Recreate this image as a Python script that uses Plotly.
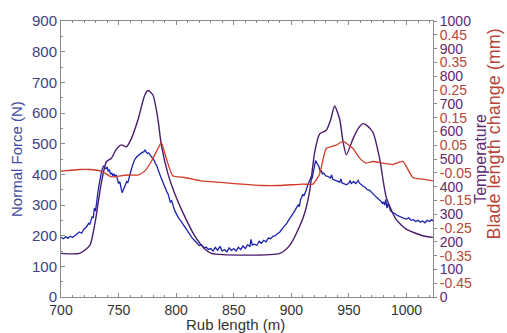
import plotly.graph_objects as go

# Normal force (N) vs rub length (m)
force_x = [700, 702, 704, 706, 708, 710, 712, 714, 716, 718, 720, 722, 724, 725, 726, 727, 728, 729, 730,
           731, 732, 733, 734, 735, 736, 737, 738, 739, 740, 741, 742, 743, 744, 745, 746, 747, 748, 749,
           750, 751, 752, 753, 754, 755, 756, 757, 758, 759, 760, 761, 762, 763, 764, 766, 768, 770, 772,
           773, 774, 775, 776, 778, 779, 780, 781, 782, 783, 784, 785, 786, 787, 788, 789, 790, 791, 792,
           793, 794, 795, 796, 797, 798, 799, 800, 802, 804, 806, 808, 810, 812, 814, 816, 818, 820, 822,
           824, 826, 828, 830, 832, 834, 836, 838, 840, 842, 844, 846, 848, 850, 852, 854, 856, 858, 860,
           862, 864, 865, 866, 868, 870, 872, 874, 876, 878, 880, 882, 884, 886, 888, 890, 892, 894, 896,
           898, 900, 902, 904, 906, 907, 908, 909, 910, 911, 912, 913, 914, 915, 916, 917, 918, 919, 920,
           921, 922, 923, 924, 925, 926, 927, 928, 930, 932, 934, 935, 936, 938, 940, 942, 943, 944, 946,
           948, 950, 951, 952, 954, 956, 958, 959, 960, 962, 964, 966, 968, 970, 972, 974, 976, 978, 979,
           980, 981, 982, 983, 984, 985, 986, 988, 990, 992, 994, 996, 998, 1000, 1002, 1004, 1006, 1008,
           1010, 1012, 1014, 1016, 1018, 1020, 1022, 1023]
force_n = [195, 190, 196, 192, 198, 194, 200, 205, 212, 208, 222, 228, 240, 236, 252, 262, 258, 290, 280,
           320, 340, 365, 390, 405, 420, 428, 422, 418, 424, 410, 415, 400, 405, 395, 402, 392, 398, 380,
           370, 376, 355, 340, 348, 360, 368, 376, 372, 390, 400, 415, 428, 440, 448, 458, 465, 470, 474,
           480, 472, 468, 470, 460, 458, 452, 445, 435, 430, 418, 405, 398, 388, 378, 370, 360, 352, 342,
           336, 320, 308, 315, 298, 290, 280, 272, 258, 248, 236, 226, 214, 202, 192, 184, 176, 168, 170,
           160, 163, 155, 158, 150, 162, 152, 165, 150, 155, 147, 160, 152, 158, 150, 162, 155, 166, 158,
           170, 165, 188, 170, 172, 168, 182, 175, 185, 180, 192, 190, 198, 200, 206, 212, 222, 230, 240,
           252, 262, 275, 288, 300, 295, 318, 325, 335, 330, 345, 350, 362, 372, 380, 390, 386, 410, 432,
           445, 438, 430, 425, 410, 412, 402, 404, 395, 393, 388, 398, 384, 382, 378, 374, 385, 372, 370,
           366, 372, 380, 370, 376, 370, 380, 372, 368, 362, 358, 350, 348, 340, 330, 325, 318, 312, 304,
           310, 300, 318, 290, 305, 294, 282, 275, 272, 266, 262, 260, 256, 254, 258, 250, 252, 246,
           250, 244, 248, 242, 250, 246, 252, 248]

# Temperature vs rub length
temp_x = [700, 716, 725, 729.6, 734.9, 739.5, 743.8, 748, 752.5, 756.8, 761, 766.9, 772.7, 775.6, 779.9,
          784.2, 787.1, 792.9, 798.7, 807.4, 816, 824.7, 830.5, 890, 898.6, 907.3, 912, 916, 920.3, 924.6,
          930.4, 934, 937.6, 942, 945, 947.8, 953.5, 958, 962.2, 966, 970.9, 976.6, 982.4, 991, 999.8,
          1014, 1023]
temp_v = [158, 158, 187, 270, 411, 491, 503, 535, 551, 544, 573, 643, 731, 748, 731,
          643, 551, 446, 375, 292, 222, 175, 158, 158, 187, 257, 310, 386, 526, 591,
          604, 640, 692, 643, 560, 515, 573, 610, 628, 620, 596, 503, 362, 281, 246,
          222, 216]

# Blade length change (mm) vs rub length
blade_x = [700, 716, 725, 735, 743.8, 750, 757.6, 766.9, 772.7, 778.4, 784.2, 787.1, 791.4, 797, 807.4,
           821.8, 839, 856.4, 873.8, 889.7, 910, 918.7, 924.5, 930.3, 939, 944.8, 953.5, 959.3, 965,
           970.8, 979.5, 988.1, 996.8, 1005.5, 1014, 1023]
blade_v = [-0.044, -0.038, -0.038, -0.044, -0.065, -0.062, -0.058, -0.058, -0.044, -0.009, 0.038, 0.059,
           0.003, -0.061, -0.067, -0.079, -0.085, -0.091, -0.096, -0.096, -0.091, -0.091, -0.055, 0.038,
           0.050, 0.064, 0.038, 0.003, -0.015, -0.009, -0.015, -0.020, -0.009, -0.067, -0.073, -0.079]

x_ticks = [700, 750, 800, 850, 900, 950, 1000]
force_ticks = [0, 100, 200, 300, 400, 500, 600, 700, 800, 900]
temp_ticks = [0, 100, 200, 300, 400, 500, 600, 700, 800, 900, 1000]
blade_ticks = [-0.45, -0.35, -0.25, -0.15, -0.05, 0.05, 0.15, 0.25, 0.35, 0.45]
blade_labels = ["-0.45", "-0.35", "-0.25", "-0.15", "-0.05", "0.05", "0.15", "0.25", "0.35", "0.45"]

FONT = "Liberation Sans, Arial, sans-serif"
AX = "#8a8a8a"
BLUE_TXT = "#3c4285"
PURPLE = "#5a2a72"
RED_TXT = "#b5473a"

fig = go.Figure()
fig.add_trace(go.Scatter(x=force_x, y=force_n, mode="lines", line=dict(color="#1c22b0", width=1.3),
                         yaxis="y", showlegend=False))
fig.add_trace(go.Scatter(x=temp_x, y=temp_v, mode="lines", line=dict(color="#4a1c6c", width=1.4, shape="spline", smoothing=0.6),
                         yaxis="y2", showlegend=False))
fig.add_trace(go.Scatter(x=blade_x, y=blade_v, mode="lines", line=dict(color="#d03a28", width=1.3, shape="spline", smoothing=0.5),
                         yaxis="y3", showlegend=False))

fig.update_layout(
    width=507, height=333,
    margin=dict(l=61, r=74, t=15, b=36),
    paper_bgcolor="white", plot_bgcolor="white",
    font=dict(family=FONT, size=15, color="#333333"),
    xaxis=dict(range=[700, 1023], tickvals=x_ticks, ticks="inside", ticklen=4, tickcolor=AX,
               showline=True, linecolor=AX, linewidth=1, mirror="ticks", showgrid=False, zeroline=False,
               tickfont=dict(size=14, color="#333333"), ticklabelstandoff=0,
               minor=dict(dtick=10, ticks="inside", ticklen=2, tickcolor=AX)),
    yaxis=dict(range=[0, 900], tickvals=force_ticks, ticks="inside", ticklen=4, tickcolor=AX,
               showline=True, linecolor=AX, linewidth=1, showgrid=False, zeroline=False,
               tickfont=dict(size=15, color=BLUE_TXT),
               minor=dict(dtick=50, ticks="inside", ticklen=2, tickcolor=AX)),
    yaxis2=dict(range=[0, 1000], tickvals=temp_ticks, overlaying="y", side="right", anchor="x",
                ticks="outside", ticklen=3, tickcolor=AX, showline=True, linecolor=AX, showgrid=False,
                zeroline=False, tickfont=dict(size=14, color=PURPLE)),
    yaxis3=dict(range=[-0.5, 0.5], tickvals=blade_ticks, ticktext=blade_labels, overlaying="y",
                side="right", anchor="x", ticks="outside", ticklen=3, tickcolor=AX, showline=False,
                showgrid=False, zeroline=False, tickfont=dict(size=14, color=RED_TXT)),
    annotations=[
        dict(text="Normal Force (N)", xref="paper", yref="paper", x=-0.121, y=0.5, textangle=-90,
             showarrow=False, xanchor="center", yanchor="middle", font=dict(size=15, color="#3f4aa0")),
        dict(text="Rub length (m)", xref="paper", yref="paper", x=0.469, y=-0.1, showarrow=False,
             xanchor="center", yanchor="middle", font=dict(size=15, color="#333333")),
        dict(text="Temperature", xref="paper", yref="paper", x=1.126, y=0.5, textangle=-90,
             showarrow=False, xanchor="center", yanchor="middle", font=dict(size=16, color=PURPLE)),
        dict(text="Blade length change (mm)", xref="paper", yref="paper", x=1.164, y=0.589, textangle=-90,
             showarrow=False, xanchor="center", yanchor="middle", font=dict(size=18, color=RED_TXT)),
    ],
)

fig.write_html("out.html")
